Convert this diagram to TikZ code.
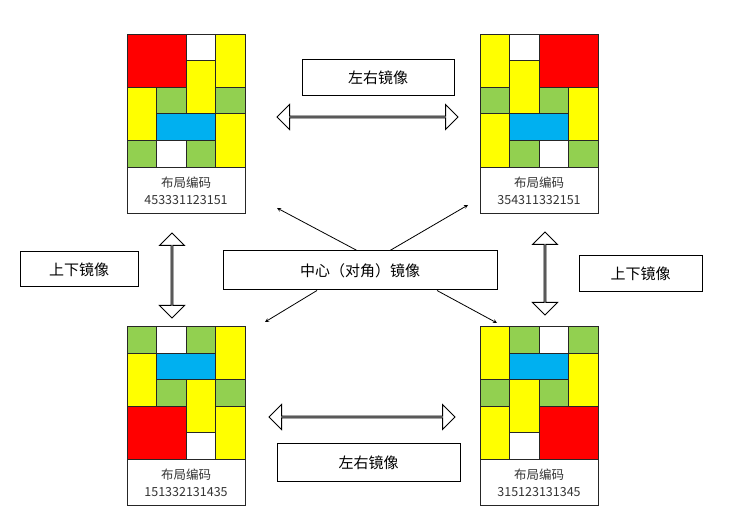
\documentclass[tikz,border=0pt]{standalone}
\usepackage{fontspec}
\setmainfont{Noto Sans CJK SC}
\usetikzlibrary{positioning}
\usetikzlibrary{shapes.arrows}
\usepackage{xcolor}

\definecolor{bred}{HTML}{FF0000}
\definecolor{byellow}{HTML}{FFFF00}
\definecolor{bgreen}{HTML}{92D050}
\definecolor{bblue}{HTML}{00B0F0}

% one block of the board: columns c1..c2, rows r1..r2
\newcommand{\blk}[5]{\filldraw[fill=#5, draw=black!85, line width=0.8pt]
  ({-59+#1*29.5},{-66.5+#2*26.6}) rectangle ({-59+(#3+1)*29.5},{-66.5+(#4+1)*26.6});}
\newcommand{\boardlayout}{%
\blk{0}{0}{1}{1}{bred}\blk{2}{0}{2}{0}{white}\blk{3}{0}{3}{1}{byellow}
\blk{2}{1}{2}{2}{byellow}\blk{0}{2}{0}{3}{byellow}\blk{1}{2}{1}{2}{bgreen}
\blk{3}{2}{3}{2}{bgreen}\blk{1}{3}{2}{3}{bblue}\blk{3}{3}{3}{4}{byellow}
\blk{0}{4}{0}{4}{bgreen}\blk{1}{4}{1}{4}{white}\blk{2}{4}{2}{4}{bgreen}}

\tikzset{
  tag/.style={draw, line width=1pt, fill=white, inner sep=0pt, font=\fontsize{15}{18}\selectfont},
  code/.style={draw=black!85, line width=0.8pt, minimum width=118pt, minimum height=46pt,
    inner sep=0pt, align=center, font=\fontsize{12.5}{17}\selectfont, text=black!80},
  dbl/.style={double arrow, draw, line width=1pt, fill=white, inner sep=0pt,
    minimum width=25pt, double arrow head extend=6pt},
  diag/.style={-stealth, line width=0.8pt}
}

\begin{document}
\begin{tikzpicture}[x=1pt, y=-1pt]
\useasboundingbox (0,0) rectangle (745,526);

%%%%%%%%%%%%    boards   %%%%%%%%%%%%
\begin{scope}[shift={(186,100.5)}]
\boardlayout
\end{scope}
\begin{scope}[shift={(539,100.5)}, xscale=-1]
\boardlayout
\end{scope}
\begin{scope}[shift={(186,393)}, yscale=-1]
\boardlayout
\end{scope}
\begin{scope}[shift={(539,393)}, xscale=-1, yscale=-1]
\boardlayout
\end{scope}

% codes
\node[code, anchor=north] (codeTL) at (186,167) {布局编码\\453331123151};
\node[code, anchor=north] (codeTR) at (539,167) {布局编码\\354311332151};
\node[code, anchor=north] (codeBL) at (186,459.5) {布局编码\\151332131435};
\node[code, anchor=north] (codeBR) at (539,459.5) {布局编码\\315123131345};

%%%%%%%%%%%%    mirror arrows   %%%%%%%%%%%%
\node[dbl, minimum height=181pt] (lrTop) at (367.5,117) {};
\node[dbl, minimum height=186pt] (lrBot) at (362,417) {};
\node[dbl, minimum height=85pt, rotate=90] (udLeft) at (172,275.5) {};
\node[dbl, minimum height=83pt, rotate=90] (udRight) at (545,273.5) {};

% labeling
\node[tag, minimum width=152pt, minimum height=36pt] (lrTopTag) at (378,78) {左右镜像};
\node[tag, minimum width=183pt, minimum height=38pt] (lrBotTag) at (368.5,463) {左右镜像};
\node[tag, minimum width=118pt, minimum height=35pt] (udLeftTag) at (79,269.5) {上下镜像};
\node[tag, minimum width=123pt, minimum height=36pt] (udRightTag) at (640.5,274) {上下镜像};
\node[tag, minimum width=274pt, minimum height=39pt] (center) at (360,270.5) {中心（对角）镜像};

\coordinate (tipTL) at (277,208);
\coordinate (tipTR) at (468,205);
\coordinate (tipBL) at (265,322);
\coordinate (tipBR) at (497,323);
\draw[diag] (center.north -| 357,0) -- (tipTL);
\draw[diag] (center.north -| 390,0) -- (tipTR);
\draw[diag] (center.south -| 317,0) -- (tipBL);
\draw[diag] (center.south -| 437,0) -- (tipBR);

\end{tikzpicture}
\end{document}
